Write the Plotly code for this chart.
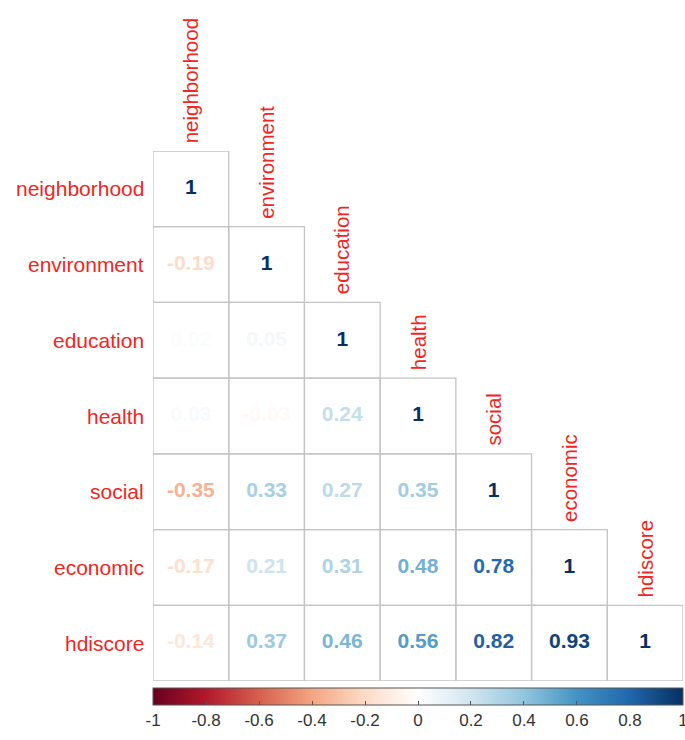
import plotly.graph_objects as go
import numpy as np

variables = ["neighborhood", "environment", "education", "health", "social", "economic", "hdiscore"]
# lower-triangle correlations, row by row
corr_rows = [
    [1],
    [-0.19, 1],
    [0.02, 0.05, 1],
    [0.03, -0.03, 0.24, 1],
    [-0.35, 0.33, 0.27, 0.35, 1],
    [-0.17, 0.21, 0.31, 0.48, 0.78, 1],
    [-0.14, 0.37, 0.46, 0.56, 0.82, 0.93, 1],
]
cbar_ticks = [-1, -0.8, -0.6, -0.4, -0.2, 0, 0.2, 0.4, 0.6, 0.8, 1]
cbar_ticklabels = ["-1", "-0.8", "-0.6", "-0.4", "-0.2", "0", "0.2", "0.4", "0.6", "0.8", "1"]

palette = ["#67001F", "#B2182B", "#D6604D", "#F4A582", "#FDDBC7", "#FFFFFF",
           "#D1E5F0", "#92C5DE", "#4393C3", "#2166AC", "#053061"]
colorscale = [[i / (len(palette) - 1), c] for i, c in enumerate(palette)]


def hex2rgb(h):
    h = h.lstrip("#")
    return [int(h[i:i + 2], 16) for i in (0, 2, 4)]


def value_color(v):
    t = (v + 1) / 2 * (len(palette) - 1)
    i = int(np.floor(t))
    if i >= len(palette) - 1:
        i = len(palette) - 2
    f = t - i
    a, b = hex2rgb(palette[i]), hex2rgb(palette[i + 1])
    c = [round(a[k] + (b[k] - a[k]) * f) for k in range(3)]
    return "rgb(%d,%d,%d)" % tuple(c)


n = len(variables)
W, H = 685, 740
left_px, right_px = 153, 683
top_px, bottom_px = 151, 681
FONT = "Liberation Sans, Arial"
LABEL_COL = "#F2261F"

xs, ys, texts, colors = [], [], [], []
shapes = []
for r, row in enumerate(corr_rows):
    for c, v in enumerate(row):
        xs.append(c + 0.5)
        ys.append(r + 0.5)
        texts.append("%g" % v)
        colors.append(value_color(v))
        shapes.append(dict(type="rect", xref="x", yref="y", x0=c, x1=c + 1, y0=r, y1=r + 1,
                           line=dict(color="#C4C4C4", width=1.3), fillcolor="rgba(0,0,0,0)",
                           layer="below"))

fig = go.Figure()
fig.add_trace(go.Scatter(
    x=xs, y=ys, mode="text", text=texts,
    textfont=dict(family=FONT, size=21, color=colors, weight="bold"),
    hoverinfo="skip", showlegend=False, cliponaxis=False,
))
# colorbar carrier
eps = 1e-4
fig.add_trace(go.Scatter(
    x=[0.5], y=[0.5], mode="markers",
    marker=dict(size=1, opacity=0, color=[0], cmin=-1 - eps, cmax=1 + eps, colorscale=colorscale,
                showscale=True,
                colorbar=dict(orientation="h", x=(left_px + right_px) / 2 / W, xanchor="center",
                              y=(H - 688) / H, yanchor="top", len=(right_px - left_px), lenmode="pixels",
                              thickness=17, thicknessmode="pixels", xpad=0, ypad=0,
                              outlinecolor="#555555", outlinewidth=1,
                              tickvals=cbar_ticks, ticktext=cbar_ticklabels,
                              ticks="inside", ticklen=4, tickcolor="#555555",
                              ticklabeloverflow="allow",
                              tickfont=dict(family=FONT, size=17, color="#333333"))),
    hoverinfo="skip", showlegend=False,
))

annotations = []
for i, name in enumerate(variables):
    # column labels above the diagonal
    annotations.append(dict(x=i + 0.5, y=i, xref="x", yref="y", text=name, textangle=-90,
                            showarrow=False, xanchor="center", yanchor="bottom", yshift=6,
                            font=dict(family=FONT, size=20.5, color=LABEL_COL)))
    # row labels
    annotations.append(dict(x=146 / W, y=i + 0.5, xref="paper", yref="y", text=name,
                            showarrow=False, xanchor="right", yanchor="middle",
                            font=dict(family=FONT, size=21, color=LABEL_COL)))

fig.update_layout(
    width=W, height=H, margin=dict(l=0, r=0, t=0, b=0),
    plot_bgcolor="white", paper_bgcolor="white",
    shapes=shapes, annotations=annotations,
    xaxis=dict(domain=[left_px / W, right_px / W], range=[0, n], visible=False, fixedrange=True),
    yaxis=dict(domain=[(H - bottom_px) / H, (H - top_px) / H], range=[n, 0], visible=False, fixedrange=True),
)
fig.write_html("out.html")
